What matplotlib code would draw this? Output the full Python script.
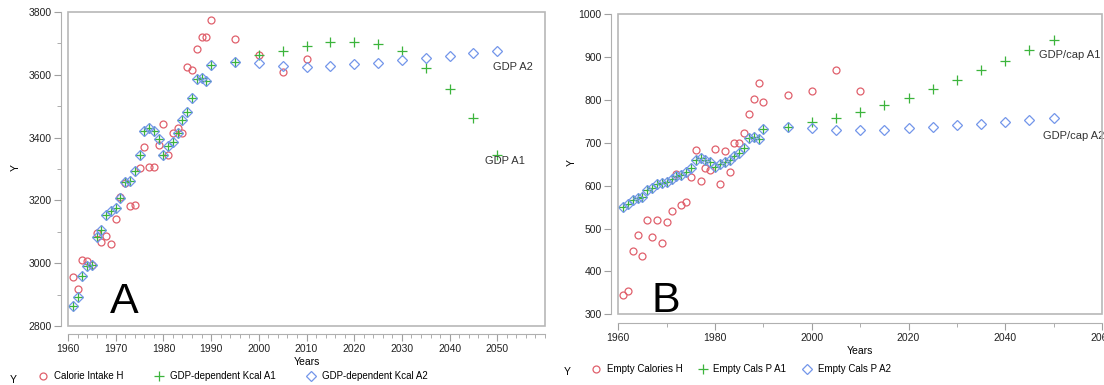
import matplotlib
matplotlib.use("Agg")
import matplotlib.pyplot as plt
from matplotlib.ticker import MultipleLocator
from matplotlib.patches import Rectangle

plt.rcParams['font.family'] = ['Liberation Sans', 'DejaVu Sans']

# ---- panel A: calorie intake ----
cal_years = [1961, 1962, 1963, 1964, 1965, 1966, 1967, 1968, 1969, 1970,
             1971, 1972, 1973, 1974, 1975, 1976, 1977, 1978, 1979, 1980,
             1981, 1982, 1983, 1984, 1985, 1986, 1987, 1988, 1989, 1990,
             1995, 2000, 2005, 2010]
calorie_h = [2957, 2917, 3010, 3006, 2995, 3096, 3068, 3086, 3060, 3140,
             3210, 3255, 3181, 3186, 3302, 3371, 3306, 3306, 3378, 3443,
             3343, 3414, 3430, 3415, 3625, 3616, 3683, 3721, 3721, 3775,
             3713, 3662, 3610, 3650]

gdp_years = list(range(1961, 1991)) + list(range(1995, 2051, 5))
kcal_hist = [2864, 2893, 2960, 2990, 2994, 3083, 3107, 3152, 3166, 3177,
             3208, 3258, 3261, 3293, 3343, 3420, 3431, 3422, 3396, 3346,
             3372, 3385, 3414, 3457, 3480, 3526, 3586, 3590, 3579, 3632]
kcal_a1 = kcal_hist + [3641, 3662, 3676, 3692, 3703, 3706, 3697, 3676,
                       3623, 3555, 3461, 3346]
kcal_a2 = kcal_hist + [3641, 3636, 3629, 3625, 3627, 3634, 3639, 3647,
                       3654, 3661, 3669, 3675]

# ---- panel B: empty calories ----
empty_years = list(range(1961, 1991)) + [1995, 2000, 2005, 2010]
empty_h = [346, 354, 448, 485, 436, 521, 481, 521, 467, 515,
           542, 627, 554, 561, 621, 683, 610, 642, 636, 685,
           603, 681, 632, 700, 700, 722, 768, 803, 840, 795,
           812, 822, 870, 822]
cals_hist = [550, 558, 566, 572, 574, 589, 595, 603, 607, 609,
             615, 622, 625, 633, 642, 661, 665, 661, 655, 643,
             650, 655, 661, 669, 677, 689, 712, 714, 710, 733]
cals_a1 = cals_hist + [737, 748, 759, 771, 788, 805, 826, 847, 870, 892, 917, 939]
cals_a2 = cals_hist + [737, 734, 730, 730, 730, 734, 737, 741, 745, 749, 753, 758]

RED = '#e0606c'
GREEN = '#3cb43c'
BLUE = '#7396ea'
FS = 7.5
W, H = 1104, 385


def style_axes(ax, out_left, out_bottom):
    for s in ['top', 'right']:
        ax.spines[s].set_visible(False)
    ax.spines['left'].set_position(('outward', out_left))
    ax.spines['bottom'].set_position(('outward', out_bottom))
    for s in ['left', 'bottom']:
        ax.spines[s].set_color('#b0b0b0')
    ax.add_patch(Rectangle((0, 0), 1, 1, transform=ax.transAxes, fill=False,
                           edgecolor='#b8b8b8', lw=1.2, clip_on=False, zorder=5))
    ax.tick_params(which='both', direction='out', color='#a0a0a0',
                   labelsize=FS, labelcolor='#222222', pad=2)
    ax.tick_params(which='major', length=5)
    ax.tick_params(which='minor', length=3)


def scatter_three(ax, hx, hy, px, p1, p2):
    ax.plot(hx, hy, 'o', ms=5, mfc='none', mec=RED, mew=0.9, ls='none', clip_on=False)
    ax.plot(px, p1, '+', ms=7, mec=GREEN, mew=0.9, ls='none', clip_on=False)
    ax.plot(px, p2, 'D', ms=5, mfc='none', mec=BLUE, mew=0.9, ls='none', clip_on=False)


fig = plt.figure(figsize=(W / 100, H / 100), dpi=100)

# panel A
axA = fig.add_axes([68 / W, 1 - 326 / H, 477 / W, 314 / H])
scatter_three(axA, cal_years, calorie_h, gdp_years, kcal_a1, kcal_a2)
axA.set_xlim(1960, 2060)
axA.set_ylim(2800, 3800)
axA.set_xticks(range(1960, 2051, 10))
axA.xaxis.set_minor_locator(MultipleLocator(2))
axA.yaxis.set_major_locator(MultipleLocator(200))
axA.yaxis.set_minor_locator(MultipleLocator(100))
style_axes(axA, 5, 6)
axA.set_xlabel('Years', fontsize=FS, labelpad=2)
axA.text(2049, 3625, 'GDP A2', fontsize=8, color='#333333', va='center')
axA.text(2047.5, 3324, 'GDP A1', fontsize=8, color='#333333', va='center')
axA.text(1968.8, 2841, 'A', fontsize=31, va='baseline')
fig.text(16 / W, 1 - 168 / H, 'Y', rotation=90, fontsize=FS, va='center', ha='center')
fig.text(13 / W, 1 - 380 / H, 'Y', fontsize=FS, va='center', ha='center')
axA.legend(['Calorie Intake H', 'GDP-dependent Kcal A1', 'GDP-dependent Kcal A2'],
           loc='center left', bbox_to_anchor=(38 / W, 1 - 376 / H),
           bbox_transform=fig.transFigure, ncol=3, frameon=False,
           fontsize=7, handlelength=1.0, handletextpad=0.6,
           columnspacing=3.2, borderpad=0, borderaxespad=0)

# panel B
axB = fig.add_axes([618.3 / W, 1 - 314.3 / H, 483.7 / W, 300 / H])
scatter_three(axB, empty_years, empty_h, gdp_years, cals_a1, cals_a2)
axB.set_xlim(1960, 2059.5)
axB.set_ylim(300, 1000)
axB.set_xticks(range(1960, 2061, 20))
axB.xaxis.set_minor_locator(MultipleLocator(10))
axB.yaxis.set_major_locator(MultipleLocator(100))
style_axes(axB, 5, 6.5)
axB.set_xlabel('Years', fontsize=FS, labelpad=2)
axB.text(2046.9, 906, 'GDP/cap A1', fontsize=8, color='#333333', va='center')
axB.text(2047.8, 716, 'GDP/cap A2', fontsize=8, color='#333333', va='center')
axB.text(1966.9, 305, 'B', fontsize=31, va='baseline')
fig.text(572 / W, 1 - 163 / H, 'Y', rotation=90, fontsize=FS, va='center', ha='center')
fig.text(567 / W, 1 - 372 / H, 'Y', fontsize=FS, va='center', ha='center')
axB.legend(['Empty Calories H', 'Empty Cals P A1', 'Empty Cals P A2'],
           loc='center left', bbox_to_anchor=(591 / W, 1 - 369 / H),
           bbox_transform=fig.transFigure, ncol=3, frameon=False,
           fontsize=7, handlelength=1.0, handletextpad=0.6,
           columnspacing=1.6, borderpad=0, borderaxespad=0)

fig.savefig('out.png', dpi=100)
